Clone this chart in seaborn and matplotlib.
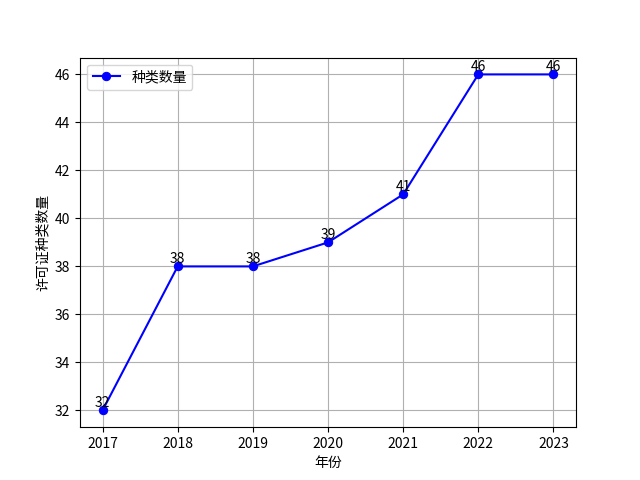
import matplotlib
matplotlib.use("Agg")
import matplotlib.pyplot as plt
import seaborn as sns
import pandas as pd

plt.rcParams['font.family'] = ['Noto Sans CJK SC', 'DejaVu Sans']
plt.rcParams['axes.unicode_minus'] = False

years = [2017, 2018, 2019, 2020, 2021, 2022, 2023]
counts = [32, 38, 38, 39, 41, 46, 46]

df = pd.DataFrame({'年份': years, '数量': counts})

fig, ax = plt.subplots(figsize=(6.4, 4.8), dpi=100)
sns.lineplot(data=df, x='年份', y='数量', marker='o', color='blue',
             markeredgecolor='blue', markersize=6, label='种类数量', ax=ax)

# label each point
for x, y in zip(years, counts):
    ax.text(x, y, str(y), ha='center', va='bottom', fontsize=10)

ax.set_xlabel('年份')
ax.set_ylabel('许可证种类数量')
ax.set_xticks(years)
ax.grid(True)
ax.legend(loc='upper left')

fig.savefig('out.png', dpi=100)
